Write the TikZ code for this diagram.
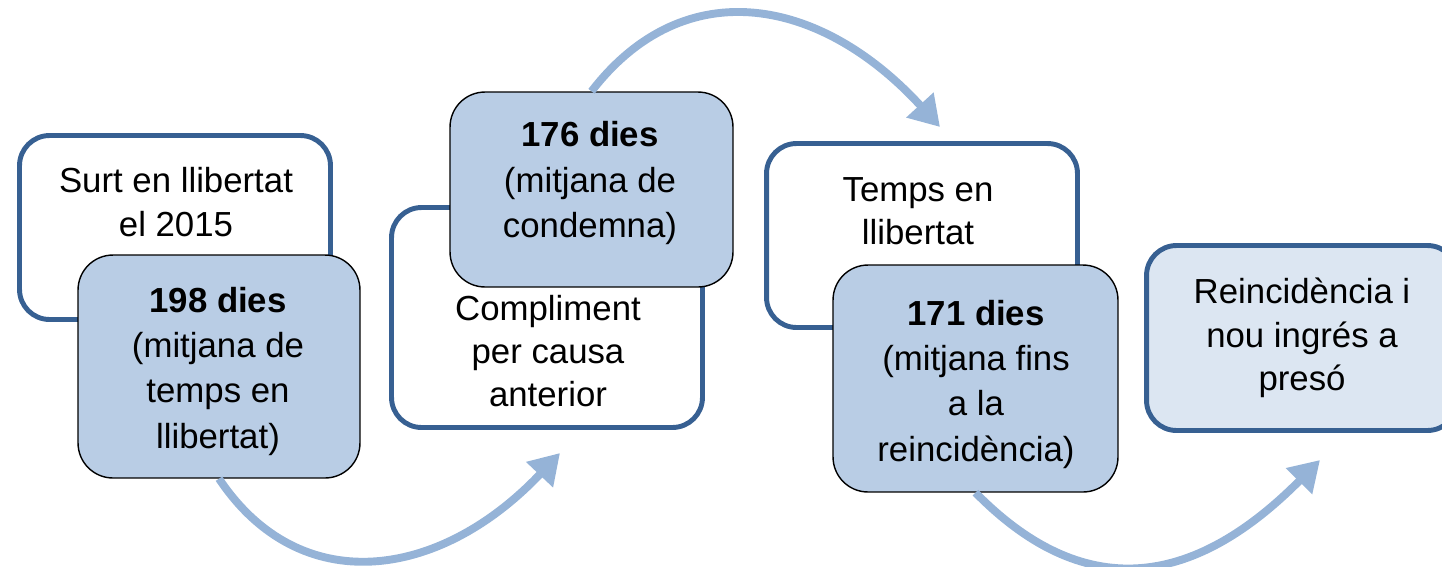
\documentclass[tikz,border=0pt]{standalone}
\usepackage{fontspec}
\setmainfont{Liberation Sans}
\usetikzlibrary{arrows.meta}
\definecolor{boxline}{RGB}{55,96,146}
\definecolor{boxfill}{RGB}{185,205,229}
\definecolor{lastfill}{RGB}{220,230,242}
\definecolor{arrowblue}{RGB}{149,179,215}
\newcommand{\boxfont}{\fontsize{19.8}{24.7}\selectfont}
\newcommand{\dayfont}{\fontsize{19.8}{25.8}\selectfont}

\begin{document}
\begin{tikzpicture}[x=0.02cm, y=-0.02cm,
  outbox/.style={draw=boxline, line width=2.8pt, fill=white, rounded corners=0.6cm,
    minimum width=6.22cm, minimum height=3.68cm, align=center, font=\boxfont},
  daybox/.style={draw=black, line width=0.8pt, fill=boxfill, rounded corners=0.7cm},
  txt/.style={align=center, font=\boxfont},
  daytxt/.style={align=center, font=\dayfont},
  jump/.style={arrowblue, line width=4.5pt, -{Triangle[length=17pt,width=20pt]}}]
\useasboundingbox (0,0) rectangle (1442,566);
\clip (0,0) rectangle (1442,566);
\node (surt) [outbox] at (175,227.5) {};
\node (surttxt) [txt] at (176,202) {Surt en llibertat\\el 2015};
\node (dies198) [daybox, minimum width=5.64cm, minimum height=4.46cm] at (219,366.5) {};
\node (dies198txt) [daytxt] at (218,371) {\textbf{198 dies}\\(mitjana de\\temps en\\llibertat)};
\node (compl) [outbox, minimum height=4.4cm] at (547,317.5) {};
\node (compltxt) [txt] at (548,351) {Compliment\\per causa\\anterior};
\node (dies176) [daybox, minimum width=5.66cm, minimum height=3.9cm] at (591.5,189.5) {};
\node (dies176txt) [daytxt] at (590,183) {\textbf{176 dies}\\(mitjana de\\condemna)};
\node (temps) [outbox] at (922,235.5) {};
\node (tempstxt) [txt] at (918,211) {Temps en\\llibertat};
\node (dies171) [daybox, minimum width=5.7cm, minimum height=4.54cm] at (975.5,378.5) {};
\node (dies171txt) [daytxt] at (976,384) {\textbf{171 dies}\\(mitjana fins\\a la\\reincidència)};
\node (reinc) [outbox, fill=lastfill, minimum height=3.7cm] at (1302,338)
  {Reincidència i\\nou ingrés a\\presó};
\coordinate (tip1) at (560,453);
\coordinate (tip2) at (940,127);
\coordinate (tip3) at (1320,460);
\draw[jump] (dies198.south) .. controls (300,600) and (440,580) .. (tip1);
\draw[jump] (dies176.north) .. controls (685,-30) and (822,-2) .. (tip2);
\draw[jump] (dies171.south) .. controls (1090,609) and (1200,581) .. (tip3);
\end{tikzpicture}
\end{document}
